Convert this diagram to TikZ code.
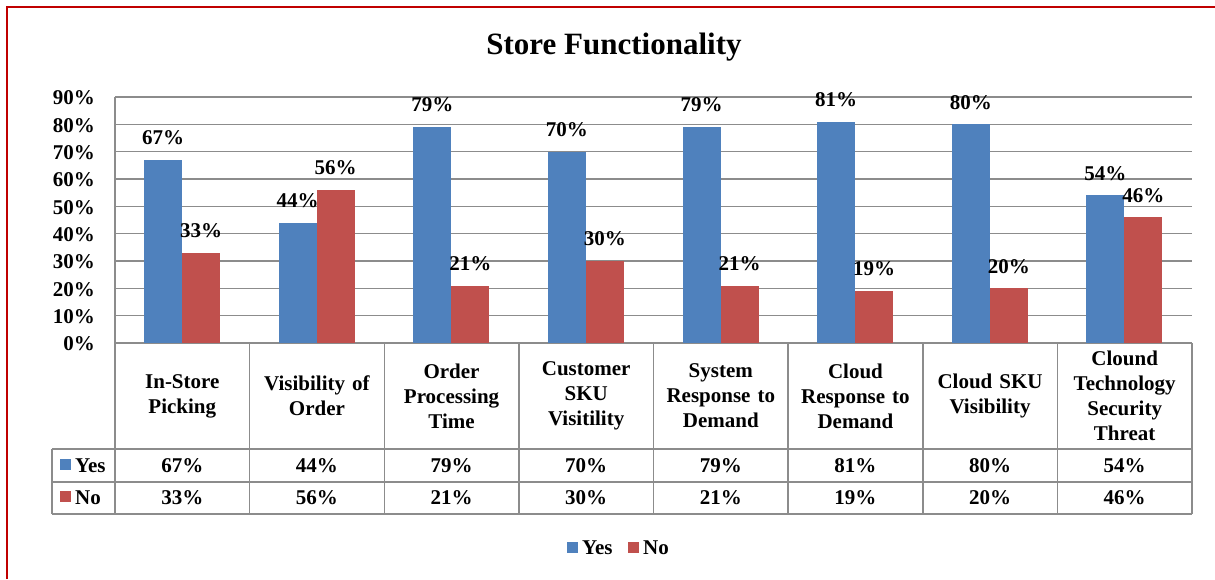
\documentclass[tikz,border=0pt]{standalone}
\usepackage{fontspec}
\setmainfont{Liberation Serif}
\definecolor{yesblue}{HTML}{4F81BD}
\definecolor{nored}{HTML}{C0504D}
\definecolor{gridgray}{HTML}{8C8C8C}
\definecolor{framered}{HTML}{C00000}
\begin{document}
\begin{tikzpicture}[x=1pt,y=-1pt,
  lbl/.style={font=\fontsize{21}{25}\selectfont\bfseries, inner sep=0pt},
  catlbl/.style={lbl, align=center, text width=130pt},
  titlelbl/.style={font=\fontsize{31}{36}\selectfont\bfseries, inner sep=0pt},
  gridline/.style={draw=gridgray, line width=1.5pt},
  tableline/.style={draw=gridgray, line width=1.5pt},
  yesbar/.style={fill=yesblue},
  nobar/.style={fill=nored}]
\useasboundingbox (0,0) rectangle (1215,579);
\fill[white] (0,0) rectangle (1215,579);
\draw[framered, line width=1.6pt] (7,579) -- (7,7) -- (1215,7);
% title
\node[titlelbl] (title) at (614,47) {Store Functionality};
% gridlines and axis labels
\foreach \p in {0,10,...,90} {
  \draw[gridline] (115,{343-\p*2.7333}) -- (1192,{343-\p*2.7333});
  \node[lbl, anchor=east] (ax\p) at (95,{344-\p*2.7333}) {\p\%};
}
% bars
\foreach \i/\ya/\na/\cat in {
  0/67/33/{In-Store\\Picking},
  1/44/56/{Visibility of\\Order},
  2/79/21/{Order\\Processing\\Time},
  3/70/30/{Customer\\SKU\\Visitility},
  4/79/21/{System\\Response to\\Demand},
  5/81/19/{Cloud\\Response to\\Demand},
  6/80/20/{Cloud SKU\\Visibility},
  7/54/46/{Clound\\Technology\\Security\\Threat}} {
  \pgfmathsetmacro\xl{115+\i*134.625}
  \fill[yesbar] ({\xl+29},343) rectangle ({\xl+67},{343-\ya*2.7333});
  \fill[nobar] ({\xl+67},343) rectangle ({\xl+105},{343-\na*2.7333});
  \node[lbl] (vy\i) at ({\xl+48},{343-\ya*2.7333-22}) {\ya\%};
  \node[lbl] (vn\i) at ({\xl+86},{343-\na*2.7333-22}) {\na\%};
  \node[catlbl] (cat\i) at ({\xl+67.3},396) {\cat};
  \node[lbl] (ty\i) at ({\xl+67.3},466) {\ya\%};
  \node[lbl] (tn\i) at ({\xl+67.3},498) {\na\%};
}
% axis line
\draw[gridline] (115,97) -- (115,343);
% table lines
\foreach \i in {0,...,8} {
  \draw[tableline] ({115+\i*134.625},343) -- ({115+\i*134.625},514);
}
\draw[tableline] (52,449) -- (1192,449);
\draw[tableline] (52,482) -- (1192,482);
\draw[tableline] (52,514) -- (1192,514);
\draw[tableline] (52,449) -- (52,514);
% table legend keys
\fill[yesblue] (60,459) rectangle (71,470);
\node[lbl, anchor=west] (tky) at (75,466) {Yes};
\fill[nored] (60,491) rectangle (71,502);
\node[lbl, anchor=west] (tkn) at (75,498) {No};
% bottom legend
\fill[yesblue] (567,542) rectangle (578,553);
\node[lbl, anchor=west] (lgy) at (582,548) {Yes};
\fill[nored] (628,542) rectangle (639,553);
\node[lbl, anchor=west] (lgn) at (643,548) {No};
\end{tikzpicture}
\end{document}
